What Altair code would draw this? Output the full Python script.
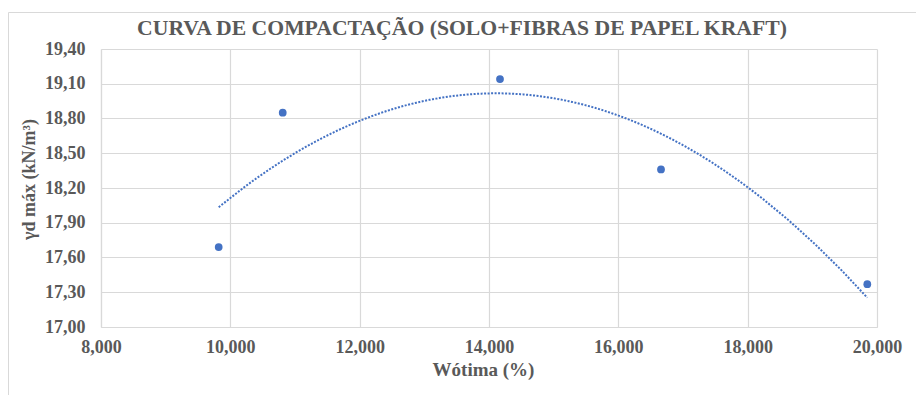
import altair as alt
import pandas as pd

# Data
w_otima = [9.82, 10.81, 14.17, 16.66, 19.85]
gd_max = [17.69, 18.85, 19.14, 18.36, 17.37]

x_ticks = [8, 10, 12, 14, 16, 18, 20]
y_ticks = [17.0, 17.3, 17.6, 17.9, 18.2, 18.5, 18.8, 19.1, 19.4]

title_text = "CURVA DE COMPACTAÇÃO (SOLO+FIBRAS DE PAPEL KRAFT)"
x_title = "Wótima (%)"
y_title = "γd máx (kN/m³)"

df = pd.DataFrame({"w": w_otima, "gd": gd_max})

FONT = "Liberation Serif"
TXT = "#595959"
GRID = "#d9d9d9"
BLUE = "#4472C4"

x_enc = alt.X(
    "w:Q",
    scale=alt.Scale(domain=[8, 20], nice=False, zero=False),
    axis=alt.Axis(
        values=x_ticks,
        title=x_title,
        labelExpr="replace(format(datum.value, '.3f'), '.', ',')",
        labelPadding=11,
        titlePadding=4,
        titleX=382,
        labelFlush=False,
    ),
)
y_enc = alt.Y(
    "gd:Q",
    scale=alt.Scale(domain=[17.0, 19.4], nice=False, zero=False),
    axis=alt.Axis(
        values=y_ticks,
        title=y_title,
        labelExpr="replace(format(datum.value, '.2f'), '.', ',')",
        labelPadding=16,
        titlePadding=6,
        titleY=130,
        labelFlush=False,
    ),
)

base = alt.Chart(df)

points = base.mark_circle(size=60, color=BLUE, opacity=1).encode(x=x_enc, y=y_enc)

trend = (
    base.transform_regression("w", "gd", method="poly", order=2)
    .mark_line(color=BLUE, strokeWidth=2, strokeDash=[2, 1.5])
    .encode(x=x_enc, y=y_enc)
)

border = (
    alt.Chart(pd.DataFrame({"a": [0]}))
    .mark_rect(fill=None, stroke=GRID, strokeWidth=1)
    .encode(
        x=alt.value(-92.5),
        x2=alt.value(840),
        y=alt.value(-36.5),
        y2=alt.value(360),
    )
)

title_mark = (
    alt.Chart(pd.DataFrame({"t": [title_text]}))
    .mark_text(
        font=FONT,
        fontSize=21.7,
        fontWeight="bold",
        color=TXT,
        align="center",
        baseline="alphabetic",
    )
    .encode(text="t:N", x=alt.value(361), y=alt.value(-14))
)

chart = (
    alt.layer(border, trend, points, title_mark)
    .properties(
        width=776,
        height=278,
        autosize=alt.AutoSizeParams(type="none"),
        padding={"left": 93, "top": 41, "right": 39, "bottom": 68},
    )
    .configure_view(stroke=None)
    .configure_axis(
        labelFont=FONT,
        titleFont=FONT,
        labelFontWeight="bold",
        titleFontWeight="bold",
        labelColor=TXT,
        titleColor=TXT,
        labelFontSize=18,
        grid=True,
        gridColor=GRID,
        gridWidth=1.2,
        domainColor=GRID,
        domainWidth=1.2,
        ticks=False,
    )
    .configure_axisX(titleFontSize=19)
    .configure_axisY(titleFontSize=18)
)

chart.save("out.html", embed_options={"renderer": "svg", "actions": False})
